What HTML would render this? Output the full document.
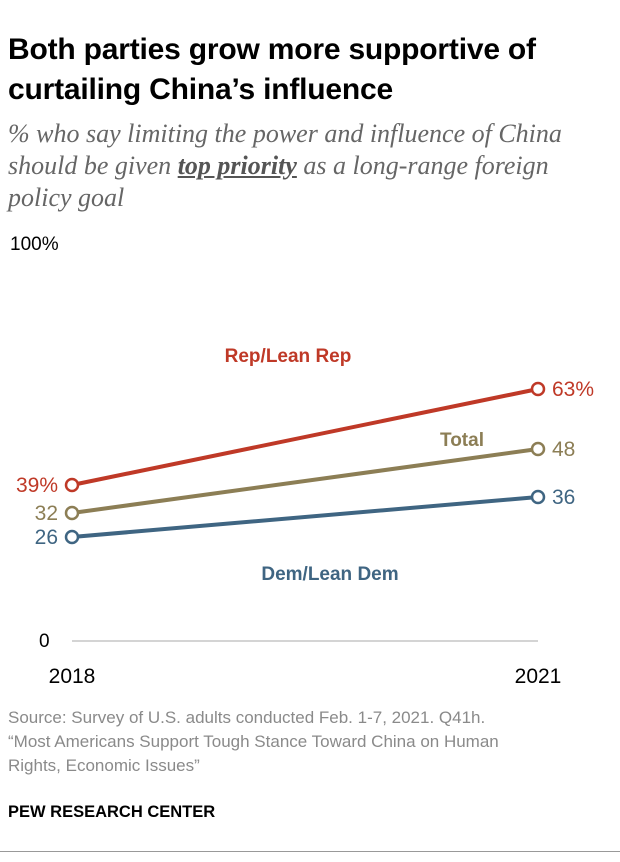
<!DOCTYPE html>
<html><head><meta charset="utf-8"><style>
body{margin:0;width:620px;height:862px;background:#fff;position:relative;overflow:hidden;font-family:"Liberation Sans",sans-serif}
.t{position:absolute;left:8px;top:30px;font-size:30px;font-weight:bold;line-height:40px;color:#000;width:610px;letter-spacing:-0.2px}
.s{position:absolute;left:8px;top:118px;font-family:"Liberation Serif",serif;font-style:italic;font-size:26px;line-height:32px;color:#666;width:592px}
.s u{font-weight:bold;color:#555}
.src{position:absolute;left:8px;top:706px;font-size:17px;line-height:24px;color:#8a8a8a;width:540px}
.pew{position:absolute;left:8px;top:803px;font-size:16.5px;font-weight:bold;color:#000}
.rule{position:absolute;left:0;top:851px;width:620px;height:1px;background:#999}
svg{position:absolute;left:0;top:0}
</style></head><body>
<div class="t">Both parties grow more supportive of curtailing China’s influence</div>
<div class="s">% who say limiting the power and influence of China should be given <u>top priority</u> as a long-range foreign policy goal</div>
<svg id="c" width="620" height="862"></svg>
<div class="src">Source: Survey of U.S. adults conducted Feb. 1-7, 2021. Q41h.<br>“Most Americans Support Tough Stance Toward China on Human Rights, Economic Issues”</div>
<div class="pew">PEW RESEARCH CENTER</div>
<div class="rule"></div>
<script>
const years=["2018","2021"];
const rep=[39,63];
const total=[32,48];
const dem=[26,36];
const NS="http://www.w3.org/2000/svg";
const svg=document.getElementById('c');
const x=i=>72+i*466;
const y=v=>641-v*4;
function el(t,a,txt){const e=document.createElementNS(NS,t);for(const k in a)e.setAttribute(k,a[k]);if(txt!==undefined)e.textContent=txt;svg.appendChild(e);return e;}
let e=el('line',{x1:72,x2:538,y1:y(0),y2:y(0),stroke:'#aaa','stroke-width':1});


e=el('text',{x:10,y:y(100)+9,'font-size':19,fill:'#000'},'100%');


e=el('text',{x:39,y:y(0)+6,'font-size':19,fill:'#000'},'0');


years.forEach((yr,i)=>{const t=el('text',{x:x(i),y:683,'font-size':21,fill:'#000','text-anchor':'middle'},yr);

});
const series=[
 {d:rep,c:'#bf3927',n:'rep',lab:'Rep/Lean Rep',lx:288,ly:362,pct:true},
 {d:total,c:'#8c7e55',n:'total',lab:'Total',lx:462,ly:446},
 {d:dem,c:'#3f6582',n:'dem',lab:'Dem/Lean Dem',lx:330,ly:580}];
series.forEach(s=>{
 let l=el('line',{x1:x(0),y1:y(s.d[0]),x2:x(1),y2:y(s.d[1]),stroke:s.c,'stroke-width':4});
 
 
 s.d.forEach((v,i)=>{
  let c=el('circle',{cx:x(i),cy:y(v),r:6,fill:'#fff',stroke:s.c,'stroke-width':2.5});
  
  
  let t=el('text',{x:i?x(i)+14:x(i)-14,y:y(v)+7,'font-size':21,fill:s.c,'text-anchor':i?'start':'end'},v+((s.pct)?'%':''));
  
  
 });
 let t=el('text',{x:s.lx,y:s.ly,'font-size':19,'font-weight':'bold',fill:s.c,'text-anchor':'middle'},s.lab);
 
 
});
</script>
</body></html>
